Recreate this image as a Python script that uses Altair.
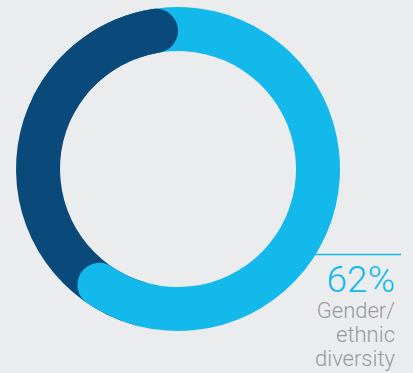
import math
import altair as alt
import pandas as pd

# Data
categories = ["Gender/ethnic diversity", "Other"]
values = [62, 38]
label_pct = "62%"
label_lines = ["Gender/", "ethnic", "diversity"]

LIGHT = "#13b9ea"
DARK = "#0a4a7a"
BG = "#ebecee"

cx, cy = 178, 169
outer, inner = 162, 118
cap = (outer - inner) / 2

light_end = values[0]
dark_end = values[0] + values[1]
hidden = 10  # portion tucked under the neighbouring segment's rounded end

layers_df = pd.DataFrame({
    "layer": [1, 2, 3],
    "cat": [categories[1], categories[0], categories[1]],
    "start": [light_end - hidden, -hidden, dark_end - 2 * hidden],
    "end": [dark_end, light_end, dark_end],
})

theta_scale = alt.Scale(domain=[0, 100], range=[0, 2 * math.pi])
color_scale = alt.Scale(domain=categories, range=[LIGHT, DARK])

def arc_layer(i):
    return alt.Chart(layers_df).transform_filter(
        alt.datum.layer == i
    ).mark_arc(
        innerRadius=inner, outerRadius=outer, cornerRadius=cap
    ).encode(
        theta=alt.Theta("start:Q", scale=theta_scale),
        theta2="end:Q",
        color=alt.Color("cat:N", scale=color_scale, legend=None),
        x=alt.value(cx),
        y=alt.value(cy),
    )

rule = alt.Chart(pd.DataFrame({"a": [0]})).mark_rule(
    color=LIGHT, strokeWidth=1.5
).encode(x=alt.value(315), x2=alt.value(401), y=alt.value(254.5))

pct = alt.Chart(pd.DataFrame({"t": [label_pct]})).mark_text(
    align="right", baseline="alphabetic", font="Roboto", fontWeight=300,
    fontSize=37, color=LIGHT
).encode(text="t:N", x=alt.value(395), y=alt.value(292))

desc_df = pd.DataFrame({"t": label_lines, "i": [0, 1, 2]})
desc = alt.Chart(desc_df).mark_text(
    align="right", baseline="alphabetic", font="Roboto", fontWeight=300,
    fontSize=22, color="#9a9a9a"
).encode(
    text="t:N",
    x=alt.value(395),
    y=alt.Y("i:Q", scale=alt.Scale(domain=[0, 2], range=[318, 366]), axis=None),
)

chart = alt.layer(arc_layer(1), arc_layer(2), arc_layer(3), rule, pct, desc).properties(
    width=413, height=373, background=BG, padding=0,
    autosize=alt.AutoSizeParams(type="none")
).configure_view(stroke=None)

chart.save("out.html", embed_options={"renderer": "svg", "actions": False})
